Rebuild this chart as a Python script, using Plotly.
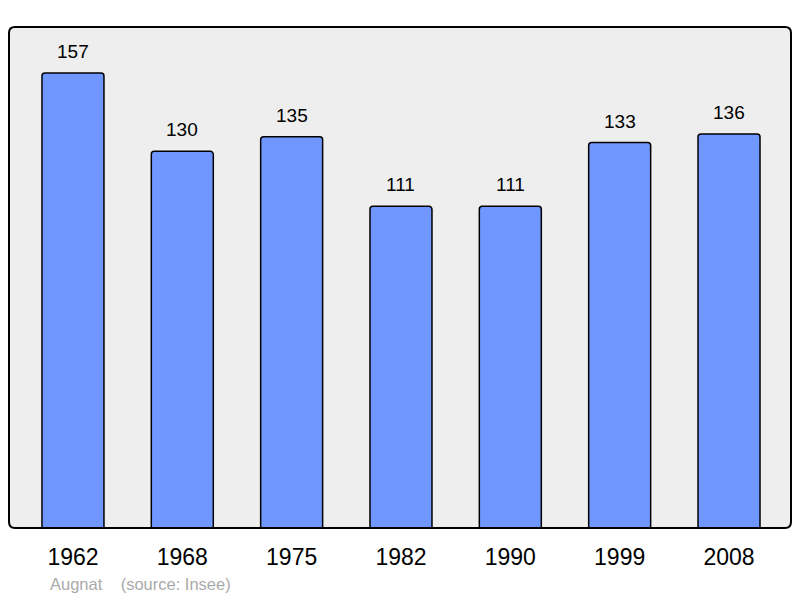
import plotly.graph_objects as go

years = ["1962", "1968", "1975", "1982", "1990", "1999", "2008"]
population = [157, 130, 135, 111, 111, 133, 136]
commune = "Augnat"
source = "(source: Insee)"

xs = list(range(len(years)))

W, H = 800, 598
L, T = 9, 27
PW, PH = 782, 501

fig = go.Figure()
fig.add_trace(go.Bar(
    x=xs, y=population, width=0.567,
    marker=dict(color="#7096FF", line=dict(color="#000000", width=1.5), cornerradius=3),
    hoverinfo="skip",
))

for x, v in zip(xs, population):
    fig.add_annotation(x=x, y=v, text=str(v), showarrow=False, yanchor="bottom",
                       yshift=9, font=dict(family="Liberation Sans", size=19, color="#000"))

fig.add_annotation(xref="paper", yref="paper", x=(48 - 9) / PW, y=-(584 - 528) / PH,
                   xanchor="left", yanchor="middle", showarrow=False,
                   text=commune + "\u00a0\u00a0\u00a0\u00a0" + source,
                   font=dict(family="Liberation Sans", size=16.5, color="#AAAAAA"))

# rounded frame
rx, ry = 6 / PW, 6 / PH
path = (f"M {rx},0 L {1-rx},0 Q 1,0 1,{ry} L 1,{1-ry} Q 1,1 {1-rx},1 "
        f"L {rx},1 Q 0,1 0,{1-ry} L 0,{ry} Q 0,0 {rx},0 Z")
fig.add_shape(type="path", xref="paper", yref="paper", path=path,
              line=dict(color="#000", width=2), fillcolor="rgba(0,0,0,0)", layer="above")

fig.update_layout(
    width=W, height=H,
    margin=dict(l=L, r=W - L - PW, t=T, b=H - T - PH),
    paper_bgcolor="#FFFFFF", plot_bgcolor="#EEEEEE",
    showlegend=False,
    xaxis=dict(range=[-0.585, 6.567], tickvals=xs, ticktext=years, showgrid=False,
               zeroline=False, ticks="outside", ticklen=8, tickcolor="rgba(0,0,0,0)",
               tickfont=dict(family="Liberation Sans", size=23, color="#000"), fixedrange=True),
    yaxis=dict(range=[0, 172.9], showgrid=False, zeroline=False, showticklabels=False,
               fixedrange=True),
)

fig.write_html(
    "out.html",
    config={"displayModeBar": False, "staticPlot": True},
    post_script="document.documentElement.style.overflow='hidden';"
                "document.body.style.margin='0';document.body.style.overflow='hidden';",
)
